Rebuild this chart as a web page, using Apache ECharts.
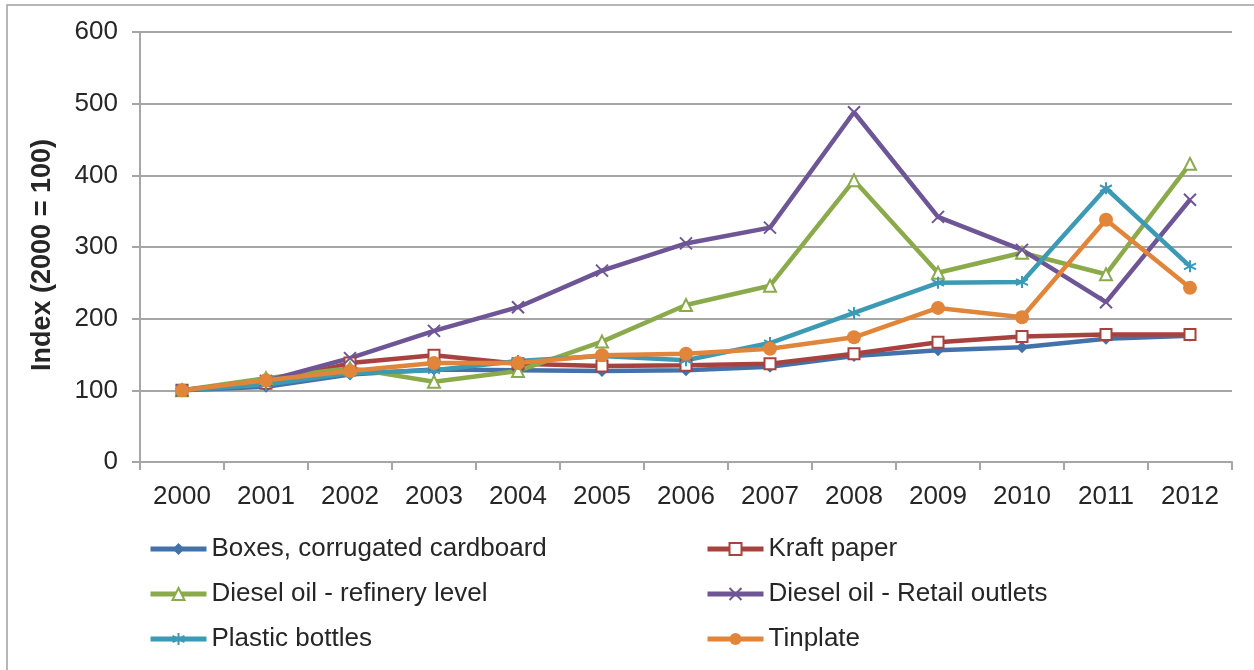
<!DOCTYPE html>
<html>
<head>
<meta charset="utf-8">
<script src="https://cdn.jsdelivr.net/npm/echarts@6/dist/echarts.min.js"></script>
<style>
  html, body { margin: 0; padding: 0; background: #fff; }
  #chart { width: 1254px; height: 670px; }
</style>
</head>
<body>
<div id="chart"></div>
<script>
// Price indices, base year 2000 = 100
const years = ['2000','2001','2002','2003','2004','2005','2006','2007','2008','2009','2010','2011','2012'];
const boxes         = [100, 105, 122, 129, 128, 127, 128, 133, 148, 156, 160, 172, 176];
const kraftPaper    = [100, 110, 138, 149, 137, 134, 135, 137, 151, 167, 175, 178, 178];
const dieselRefine  = [100, 117, 131, 112, 127, 168, 219, 246, 393, 264, 292, 262, 416];
const dieselRetail  = [100, 113, 145, 183, 216, 267, 305, 327, 488, 342, 296, 223, 366];
const plasticBottle = [100, 108, 124, 128, 141, 148, 142, 166, 208, 250, 251, 382, 273];
const tinplate      = [100, 114, 127, 138, 138, 149, 151, 158, 174, 215, 202, 338, 243];
const yTicks = { min: 0, max: 600, interval: 100 };

const FONT = 'Liberation Sans, Arial, sans-serif';
const TXT = '#262626';
const GRIDC = '#a6a6a6';
const FS = 26;

const SYM_X = 'path://M0,0 L10,10 M10,0 L0,10';
const SYM_AST = 'path://M5,0 L5,10 M0,2.5 L10,7.5 M0,7.5 L10,2.5';

function lineSeries(name, data, color, opts) {
  return Object.assign({
    name: name,
    type: 'line',
    data: data,
    lineStyle: { color: color, width: 4.5 },
    emphasis: { disabled: true },
    animation: false,
    z: 2
  }, opts);
}

const series = [
  lineSeries('Boxes, corrugated cardboard', boxes, '#4372AA', {
    symbol: 'diamond', symbolSize: 12,
    itemStyle: { color: '#4372AA' }
  }),
  lineSeries('Kraft paper', kraftPaper, '#A8423F', {
    symbol: 'rect', symbolSize: 11,
    itemStyle: { color: '#ffffff', borderColor: '#A8423F', borderWidth: 2 }
  }),
  lineSeries('Diesel oil - refinery level', dieselRefine, '#8BAA4B', {
    symbol: 'triangle', symbolSize: 12,
    itemStyle: { color: '#ffffff', borderColor: '#8BAA4B', borderWidth: 2 }
  }),
  lineSeries('Diesel oil - Retail outlets', dieselRetail, '#6E5596', {
    symbol: SYM_X, symbolSize: 12,
    itemStyle: { color: 'rgba(0,0,0,0)', borderColor: '#6E5596', borderWidth: 2 }
  }),
  lineSeries('Plastic bottles', plasticBottle, '#3D9AB4', {
    symbol: SYM_AST, symbolSize: 12,
    itemStyle: { color: 'rgba(0,0,0,0)', borderColor: '#3D9AB4', borderWidth: 2 }
  }),
  lineSeries('Tinplate', tinplate, '#E1853A', {
    symbol: 'circle', symbolSize: 14,
    itemStyle: { color: '#E1853A' }
  })
];

const legendBase = {
  orient: 'vertical',
  top: 534,
  padding: 0,
  itemWidth: 56,
  itemHeight: 15,
  itemGap: 15,
  lineStyle: { width: 5 },
  textStyle: { fontFamily: FONT, fontSize: FS, color: TXT, lineHeight: 30 },
  selectedMode: false
};

const chart = echarts.init(document.getElementById('chart'), null, { renderer: 'canvas' });
chart.setOption({
  backgroundColor: '#ffffff',
  animation: false,
  graphic: [{
    type: 'rect',
    shape: { x: 7, y: 5, width: 1300, height: 700 },
    style: { fill: 'none', stroke: '#a0a0a0', lineWidth: 1.5 },
    silent: true
  }],
  grid: { left: 140, right: 22, top: 32, bottom: 208 },
  legend: [
    Object.assign({}, legendBase, {
      left: 148,
      data: ['Boxes, corrugated cardboard', 'Diesel oil - refinery level', 'Plastic bottles']
    }),
    Object.assign({}, legendBase, {
      left: 705,
      data: ['Kraft paper', 'Diesel oil - Retail outlets', 'Tinplate']
    })
  ],
  xAxis: {
    type: 'category',
    data: years,
    boundaryGap: true,
    axisLine: { lineStyle: { color: GRIDC, width: 2 } },
    axisTick: { show: true, length: 8, inside: false, lineStyle: { color: GRIDC, width: 2 } },
    axisLabel: { fontFamily: FONT, fontSize: FS, color: TXT, margin: 22 },
    splitLine: { show: false }
  },
  yAxis: {
    type: 'value',
    min: yTicks.min, max: yTicks.max, interval: yTicks.interval,
    name: 'Index (2000 = 100)',
    nameLocation: 'middle',
    nameRotate: 90,
    nameGap: 84,
    nameTextStyle: { fontFamily: FONT, fontSize: 27, fontWeight: 'bold', color: TXT, padding: [0, 16, 0, 0] },
    axisLine: { show: true, lineStyle: { color: GRIDC, width: 2 } },
    axisTick: { show: true, length: 8, lineStyle: { color: GRIDC, width: 2 } },
    axisLabel: { fontFamily: FONT, fontSize: FS, color: TXT, margin: 22 },
    splitLine: { show: true, lineStyle: { color: GRIDC, width: 2 } }
  },
  series: series
});
</script>
</body>
</html>
